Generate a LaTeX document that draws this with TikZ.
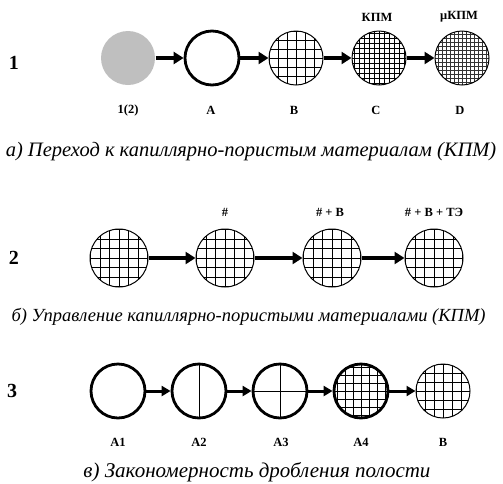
\documentclass[tikz,border=0pt]{standalone}
\usepackage{fontspec}
\setmainfont{Liberation Serif}
\usetikzlibrary{arrows.meta}

\tikzset{
  pore/.style={circle, minimum size=54pt, inner sep=0pt, draw, line width=1pt},
  thickpore/.style={pore, line width=2.8pt},
  mesh/.style={path picture={\draw[line width=0.8pt,shift={(path picture bounding box.center)}]
      (-36pt,-36pt) grid[step=#1] (36pt,36pt);}},
  finemesh/.style={path picture={\draw[line width=0.3pt,black!80,shift={(path picture bounding box.center)},rotate=45]
      (-44pt,-44pt) grid[step=#1] (44pt,44pt);}},
  link/.style={line width=3.8pt, -{Triangle[length=10pt,width=12pt]}},
  thinlink/.style={line width=3pt, -{Triangle[length=9pt,width=10pt]}},
  tag/.style={font=\bfseries\fontsize{12.5}{12.5}\selectfont},
  rownum/.style={font=\bfseries\fontsize{20}{20}\selectfont},
  subcap/.style={font=\itshape\fontsize{#1}{#1}\selectfont},
}

\begin{document}
\begin{tikzpicture}[x=1pt,y=-1pt]
  \useasboundingbox (0,0) rectangle (503,483);

  % 1: transition to capillary-porous materials
  \node[rownum] (r1) at (14,63) {1};
  \node[pore, draw=none, fill=black!25] (p0) at (128,58) {};
  \node[thickpore] (pA) at (212,58) {};
  \node[pore, mesh=9pt] (pB) at (296,58) {};
  \node[pore, mesh=5pt] (pC) at (379,58) {};
  \node[pore, finemesh=4pt] (pD) at (462,58) {};
  \draw[link] (p0) -- (pA);
  \draw[link] (pA) -- (pB);
  \draw[link] (pB) -- (pC);
  \draw[link] (pC) -- (pD);
  \node[tag] (t0) at (128,110) {1(2)};
  \node[tag] (tA) at (211,110) {A};
  \node[tag] (tB) at (294,110) {B};
  \node[tag] (tC) at (376,110) {C};
  \node[tag] (tD) at (460,110) {D};
  \node[tag] (kC) at (377,17) {КПМ};
  \node[tag] (kD) at (459,17) {μКПМ};
  \node[subcap=20.5] (capA) at (251,152) {а) Переход к капиллярно-пористым материалам (КПМ)};

  % 2: control of capillary-porous materials
  \node[rownum] (r2) at (14,258) {2};
  \node[pore, minimum size=58pt, mesh=9.5pt] (q1) at (119,258) {};
  \node[pore, minimum size=58pt, mesh=9.5pt] (q2) at (225,258) {};
  \node[pore, minimum size=58pt, mesh=9.5pt] (q3) at (332,258) {};
  \node[pore, minimum size=58pt, mesh=9.5pt] (q4) at (434,258) {};
  \draw[link] (q1) -- (q2);
  \draw[link] (q2) -- (q3);
  \draw[link] (q3) -- (q4);
  \node[tag] (h2) at (225,212) {\#};
  \node[tag] (h3) at (330,212) {\# + В};
  \node[tag] (h4) at (434,212) {\# + В + ТЭ};
  \node[subcap=18.5, anchor=west] (capB) at (8,317) {б) Управление капиллярно-пористыми материалами (КПМ)};

  % 3: cavity splitting
  \node[rownum] (r3) at (12,391) {3};
  \node[thickpore] (s1) at (118,391) {};
  \node[thickpore] (s2) at (199,391) {};
  \node[thickpore] (s3) at (280,391) {};
  \node[thickpore, mesh=8pt] (s4) at (361,391) {};
  \node[pore, mesh=9pt] (s5) at (443,391) {};
  \draw[line width=0.8pt] (s2.north) -- (s2.south);
  \draw[line width=0.8pt] (s3.north) -- (s3.south) (s3.west) -- (s3.east);
  \draw[thinlink] (s1) -- (s2);
  \draw[thinlink] (s2) -- (s3);
  \draw[thinlink] (s3) -- (s4);
  \draw[thinlink] (s4) -- (s5);
  \node[tag] (u1) at (118,442) {A1};
  \node[tag] (u2) at (199,442) {A2};
  \node[tag] (u3) at (281,442) {A3};
  \node[tag] (u4) at (361,442) {A4};
  \node[tag] (u5) at (443,442) {B};
  \node[subcap=21] (capC) at (257,472) {в) Закономерность дробления полости};
\end{tikzpicture}
\end{document}
